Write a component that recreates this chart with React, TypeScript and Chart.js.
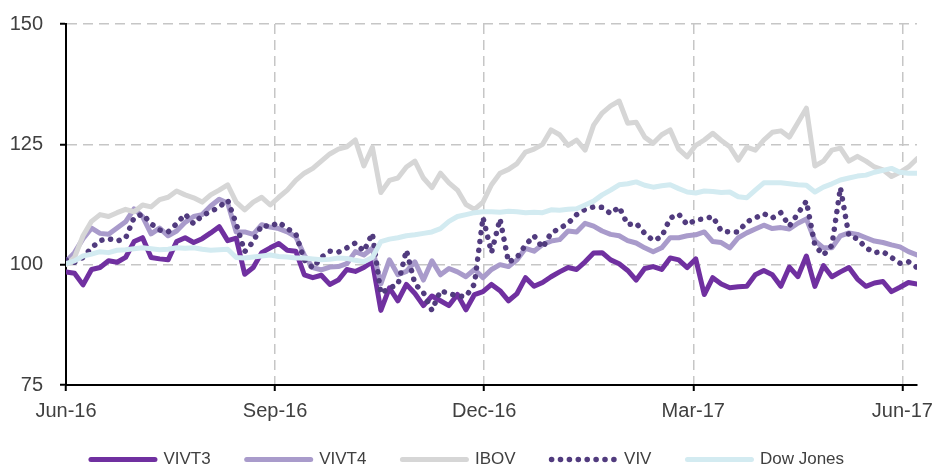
import React, { useEffect, useRef } from "react";
import { Chart, registerables } from "chart.js";

Chart.register(...registerables);

const X_LABELS = ["Jun-16", "Sep-16", "Dec-16", "Mar-17", "Jun-17"];
const X_TICKS = [0, 1, 2, 3, 4];
const X_MAX = 4.07;
const Y_TICKS = [75, 100, 125, 150];

const VIVT3 = [
  98.5, 98.2, 95.8, 99, 99.4, 100.8, 100.5, 101.5, 104.8, 105.6,
  101.5, 101.2, 101, 104.8, 105.6, 104.6, 105.4, 106.6, 107.9, 105,
  105.5, 98, 99.4, 102.5, 103.5, 104.4, 103, 102.8, 97.9, 97.3,
  97.8, 95.9, 96.8, 99, 98.6, 99.4, 100.6, 90.5, 95.2, 92.5,
  95.9, 94, 91.5, 93.5, 92.5, 91.5, 93.8, 90.6, 93.8, 94.4,
  95.9, 94.6, 92.5, 94, 97.3, 95.5, 96.3, 97.5, 98.5, 99.4,
  99, 100.6, 102.4, 102.5, 101, 100.2, 98.8, 96.8, 99.2, 99.6,
  99, 101.4, 101, 99.4, 101.2, 93.8, 97.3, 96, 95.2, 95.4,
  95.5, 97.9, 98.8, 97.9, 95.5, 99.5, 97.5, 101.8, 95.5, 99.8,
  97.5, 98.5, 99.4, 97, 95.5, 96.2, 96.5, 94.4, 95.3, 96.3,
  96,
];

const VIVT4 = [
  100.6, 102.5, 105.4, 107.6, 106.5, 106.3, 107.6, 108.9, 111.6, 110,
  106.4, 107.6, 106, 107, 108.8, 110, 110.4, 112.2, 113.6, 112.8,
  106.8, 106.8, 106.3, 108.3, 107.8, 107.5, 106.8, 105.8, 102, 99.4,
  98.9, 99.5, 99.6, 100.2, 102.7, 102, 103.4, 96, 101, 97.9,
  98.6, 100.6, 96.8, 100.8, 97.9, 99.2, 98.5, 97.5, 99, 97.3,
  99, 100, 99.6, 101, 103.4, 102.8, 104.2, 104.9, 105.2, 107,
  106.8, 108.6, 108, 107, 106.3, 106, 105, 104.5, 103.5, 102.7,
  103.5, 105.6, 105.6, 106, 106.2, 106.8, 104.8, 104.6, 103.5, 105.6,
  106.6, 107.4, 108.2, 107.5, 107.7, 107.4, 108.6, 109.5, 105, 103.5,
  103.5, 106, 106.6, 106.3, 105.6, 104.9, 104.6, 104.1, 103.7, 102.7,
  102,
];

const IBOV = [
  100, 101.5, 106, 109, 110.4, 110, 110.8, 111.5, 111, 112.4,
  112, 113.5, 114, 115.3, 114.5, 113.9, 113, 114.5, 115.5, 116.6,
  113, 111.4, 113, 114, 112.4, 114, 115.5, 117.5, 119, 120,
  121.5, 123, 124, 124.5, 125.9, 120.5, 124.4, 115, 117.5, 118,
  120.3, 121.5, 118, 116, 119, 117, 115.5, 112.5, 111.5, 113,
  116.6, 119, 119.8, 121, 123.4, 124, 125, 128, 127, 124.8,
  125.9, 123.8, 129, 131.5, 133, 134, 129.4, 129.6, 126.5, 125.2,
  127, 128, 124, 122.4, 124.8, 125.9, 127.3, 125.8, 124.5, 121.7,
  124.4, 123.8, 125.9, 127.5, 127.8, 126.5, 129.5, 132.5, 120.5, 121.5,
  123.8, 124.2, 121.5, 122.5, 121.5, 120.3, 119.7, 118.3, 119.2, 120.3,
  122,
];

const VIV = [
  101, 100.5, 101.5, 103.5, 105, 105.4, 104.9, 105.5, 109.8, 110.5,
  108.5, 107.2, 106.8, 108.5, 110.5, 108.5, 110.2, 111, 112, 113.4,
  108.5, 102.7, 104.8, 108.2, 107.9, 108.8, 107.5, 106.4, 101, 99.3,
  101.5, 102.8, 102.6, 103.5, 104.5, 102.8, 106.5, 94, 95.2, 95.8,
  103, 96, 94.2, 90.5, 94.6, 94, 93.5, 93.4, 96, 109.8,
  102.5, 109.5, 100.5, 101.5, 104.1, 106, 103.5, 106.6, 107.5, 108.6,
  110.4, 111.5, 112, 111.9, 110.6, 112, 108.3, 108.6, 106.5, 105,
  105.8, 109.7, 110.5, 108.3, 109.3, 109.5, 110, 107, 106.8, 106.8,
  108.9, 109.7, 110.6, 109.7, 110.8, 108, 110.6, 113.2, 104, 102,
  104, 116, 106, 105.4, 103.5, 102.5, 102.7, 101.5, 100.3, 100.6,
  99.4,
];

const DOW_JONES = [
  100.2, 100.8, 101.8, 102.2, 102.7, 102.5, 103, 103.1, 103.3, 103.5,
  103.3, 103.1, 103.2, 103.5, 103.4, 103.5, 103.2, 103, 103.1, 103.2,
  101.5, 101.4, 101.6, 101.8, 102, 101.7, 101.6, 101.4, 101.4, 101.2,
  101, 101.1, 101.4, 101.3, 100.9, 100.6, 101.5, 104.8, 105.3, 105.6,
  106, 106.2, 106.5, 106.8, 107.5, 109, 110, 110.4, 110.8, 111,
  111, 110.9, 111.1, 111, 110.8, 110.9, 110.8, 111.4, 111.3, 111.5,
  111.6, 112.4, 113.2, 114.5, 115.5, 116.6, 116.8, 117.2, 116.5, 116.1,
  116.4, 116.6, 115.8, 115.1, 114.9, 115.3, 115.2, 115, 115.1, 114.1,
  113.9, 115.5, 117, 117, 117, 116.8, 116.6, 116.5, 115.1, 116.1,
  116.8, 117.6, 118, 118.4, 118.6, 119.2, 119.6, 120, 119.2, 119,
  119,
];

const XS = VIVT3.map((_, i) => (i * X_MAX) / (VIVT3.length - 1));
const pts = (arr: number[]) => arr.map((y, i) => ({ x: XS[i], y }));

const FONT = "'Liberation Sans', Arial, sans-serif";
const GRID = "#c6c6c6";
const TEXT = "#404040";

export default function App() {
  const ref = useRef<HTMLCanvasElement | null>(null);

  useEffect(() => {
    if (!ref.current) return;
    document.documentElement.style.overflow = "hidden";
    document.body.style.marginRight = "0px";
    const base = {
      pointRadius: 0,
      pointHoverRadius: 0,
      borderWidth: 5,
      tension: 0,
      borderJoinStyle: "round" as const,
      borderCapStyle: "round" as const,
      fill: false,
      yAxisID: "y",
    };
    const gridOpts = {
      color: (c: any) => (c.index === 0 ? "rgba(0,0,0,0)" : GRID),
      lineWidth: 1.5,
      drawTicks: true,
      tickLength: 6,
      tickColor: "#000",
      tickWidth: 2,
      tickBorderDash: [],
    };
    const chart = new Chart(ref.current, {
      type: "line",
      data: {
        datasets: [
          { ...base, label: "VIVT3", data: pts(VIVT3), borderColor: "#7030a0", backgroundColor: "#7030a0", order: 5 },
          { ...base, label: "VIVT4", data: pts(VIVT4), borderColor: "#a99bcb", backgroundColor: "#a99bcb", order: 4 },
          { ...base, label: "IBOV", data: pts(IBOV), borderColor: "#d6d6d6", backgroundColor: "#d6d6d6", order: 3 },
          {
            ...base,
            label: "VIV",
            data: pts(VIV),
            borderColor: "#513b7e",
            backgroundColor: "#513b7e",
            borderWidth: 5.5,
            borderDash: [0.1, 8.8],
            order: 2,
          },
          { ...base, label: "Dow Jones", data: pts(DOW_JONES), borderColor: "#d3ebf1", backgroundColor: "#d3ebf1", order: 1 },
        ],
      },
      options: {
        responsive: false,
        animation: false,
        events: [],
        layout: { padding: { top: 16, left: 0, right: 10, bottom: -10 } },
        plugins: {
          tooltip: { enabled: false },
          legend: {
            position: "bottom",
            labels: {
              usePointStyle: true,
              pointStyle: "line",
              pointStyleWidth: 64,
              padding: 36,
              color: TEXT,
              font: { family: FONT, size: 17 },
              sort: (a: any, b: any) => a.datasetIndex - b.datasetIndex,
              generateLabels: (c: any) => {
                const items = (Chart as any).defaults.plugins.legend.labels.generateLabels(c);
                items.forEach((it: any) => {
                  const ds = c.data.datasets[it.datasetIndex];
                  it.lineDash = ds.borderDash || [];
                  it.lineCap = "round";
                  it.lineWidth = ds.borderWidth;
                  it.strokeStyle = ds.borderColor;
                });
                return items;
              },
            },
          },
        },
        scales: {
          x: {
            type: "linear",
            min: 0,
            max: X_MAX,
            afterBuildTicks: (s: any) => {
              s.ticks = X_TICKS.map((v) => ({ value: v }));
            },
            afterFit: (s: any) => {
              s.height = 30;
              s.paddingLeft = 0;
              s.paddingRight = 0;
            },
            ticks: {
              autoSkip: false,
              maxRotation: 0,
              mirror: true,
              padding: -38,
              color: TEXT,
              font: { family: FONT, size: 20 },
              callback: (v: any) => {
                const i = X_TICKS.indexOf(Number(v));
                return i >= 0 ? X_LABELS[i] : "";
              },
            },
            grid: gridOpts,
            border: { display: true, color: "#000", width: 2, dash: [10, 6] },
          },
          y: {
            position: "left",
            min: 75,
            max: 150,
            afterBuildTicks: (s: any) => {
              s.ticks = Y_TICKS.map((v) => ({ value: v }));
            },
            afterFit: (s: any) => {
              s.width = 58;
              s.paddingTop = 0;
              s.paddingBottom = 0;
            },
            ticks: {
              padding: 17,
              color: TEXT,
              font: { family: FONT, size: 20 },
            },
            grid: gridOpts,
            border: { display: true, color: "#000", width: 2, dash: [10, 6] },
          },
          yRight: {
            type: "linear",
            position: "right",
            display: true,
            min: 75,
            max: 150,
            afterFit: (s: any) => {
              s.width = 10;
              s.paddingTop = 0;
              s.paddingBottom = 0;
            },
            ticks: { display: false },
            grid: { display: false, drawOnChartArea: false, drawTicks: false },
            border: { display: false },
          },
        },
      },
    } as any);
    return () => chart.destroy();
  }, []);

  return (
    <div style={{ width: 929, height: 460 }}>
      <canvas ref={ref} width={929} height={460} style={{ display: "block" }} />
    </div>
  );
}
